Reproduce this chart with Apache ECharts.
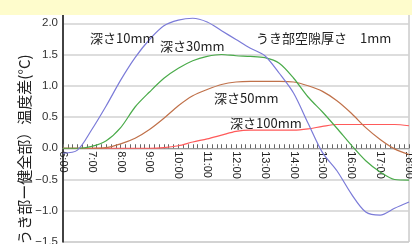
<!DOCTYPE html>
<html>
<head>
<meta charset="utf-8">
<script src="https://cdn.jsdelivr.net/npm/echarts@6/dist/echarts.min.js"></script>
<style>
html, body { margin: 0; padding: 0; background: #fff; }
#chart { width: 412px; height: 244px; }
</style>
</head>
<body>
<div id="chart"></div>
<script>
var hours = [6, 6.5, 7, 7.5, 8, 8.5, 9, 9.5, 10, 10.5, 11, 11.5, 12,
	12.5, 13, 13.5, 14, 14.5, 15, 15.5, 16, 16.5, 17, 17.5, 18];

var depth10 = [-0.08, -0.03, 0.30, 0.68, 1.09, 1.45, 1.74, 1.96, 2.05, 2.08, 2.02, 1.88, 1.74,
	1.60, 1.48, 1.20, 0.88, 0.40, -0.07, -0.36, -0.73, -1.02, -1.07, -0.96, -0.86];
var depth30 = [0, 0, 0.03, 0.12, 0.33, 0.66, 0.90, 1.12, 1.28, 1.40, 1.47, 1.50, 1.48,
	1.47, 1.45, 1.36, 1.12, 0.82, 0.58, 0.32, 0.05, -0.20, -0.38, -0.50, -0.51];
var depth50 = [0, 0, 0, 0.01, 0.07, 0.16, 0.30, 0.48, 0.68, 0.84, 0.94, 1.02, 1.06,
	1.07, 1.07, 1.07, 1.06, 1.00, 0.91, 0.76, 0.56, 0.33, 0.14, -0.01, -0.10];
var depth100 = [0, 0, 0, 0, 0, 0, 0, 0.01, 0.04, 0.10, 0.15, 0.21, 0.27,
	0.29, 0.29, 0.29, 0.29, 0.31, 0.35, 0.38, 0.38, 0.38, 0.38, 0.38, 0.36];

var seriesNames = ['深さ10mm', '深さ30mm', '深さ50mm', '深さ100mm'];
var seriesColors = ['#7b7bd8', '#4aab4a', '#c0714a', '#ff5a5a'];
var yTitle = '（うき部ー健全部）温度差(°C)';
var noteText = 'うき部空隙厚さ　1mm';

var fontJP = '"Noto Sans CJK JP", "Noto Sans", sans-serif';

var yMin = -1.5, yMax = 2.5;
var gridTop = -8, gridBottom = 2, chartH = 244;

var toPairs = function(vals){
	var out = [];
	for (var i = 0; i < hours.length; i++) {
		out.push([hours[i], vals[i]]);
	}
	return out;
};

// x axis sits on the zero line, labels with it
var plotH = chartH - gridTop - gridBottom;
var zeroOffset = -plotH * (0 - yMin) / (yMax - yMin);

var myChart = echarts.init(document.getElementById('chart'), null, {renderer: 'canvas'});

var allVals = [depth10, depth30, depth50, depth100];
var series = [];
for (var i = 0; i < allVals.length; i++) {
	series.push({
		name: seriesNames[i],
		type: 'line',
		data: toPairs(allVals[i]),
		smooth: 0.3,
		symbol: 'none',
		lineStyle: { color: seriesColors[i], width: 1.2 },
		z: 4 - i
	});
}

var option = {
	animation: false,
	grid: {
		left: 63, right: 3, top: gridTop, bottom: gridBottom,
		containLabel: false, outerBoundsMode: 'none',
		show: true, borderColor: '#b0b0b0', borderWidth: 1
	},
	xAxis: {
		type: 'value',
		min: 6,
		max: 18,
		interval: 1,
		position: 'bottom',
		offset: zeroOffset,
		axisLine: { onZero: false, lineStyle: { color: '#999', width: 1 } },
		axisTick: { inside: true, length: 4, lineStyle: { color: '#666' } },
		minorTick: { show: true, splitNumber: 6, length: 4, lineStyle: { color: '#666' } },
		splitLine: { show: false },
		axisLabel: {
			rotate: -90,
			margin: 3,
			color: '#222',
			fontSize: 11,
			fontFamily: 'Liberation Sans, sans-serif',
			formatter: function(v){ return v + ':00'; }
		}
	},
	yAxis: {
		type: 'value',
		min: yMin,
		max: yMax,
		interval: 0.5,
		axisLine: { show: true, lineStyle: { color: '#111', width: 1.5 } },
		axisTick: { show: false },
		splitLine: { lineStyle: { color: '#d2d2d2', width: 1.5 } },
		axisLabel: {
			margin: 5,
			color: '#333',
			fontSize: 11.5,
			fontFamily: 'Liberation Sans, sans-serif',
			formatter: function(v){
				var s = Math.abs(v).toFixed(1);
				return v < 0 ? '\u2212' + s : s;
			}
		}
	},
	graphic: [
		{ type: 'rect', z: 100, shape: { x: 0, y: 0, width: 412, height: 15 }, style: { fill: '#fefccc' } },
		{ type: 'text', z: 50, x: 24, y: 157, rotation: Math.PI / 2,
		  style: { text: yTitle, fill: '#222', font: '15px ' + fontJP, textAlign: 'center', textVerticalAlign: 'middle' } },
		{ type: 'text', z: 50, x: 90, y: 38,
		  style: { text: seriesNames[0], fill: '#222', font: '13px ' + fontJP, textVerticalAlign: 'middle' } },
		{ type: 'text', z: 50, x: 160, y: 46,
		  style: { text: seriesNames[1], fill: '#222', font: '13px ' + fontJP, textVerticalAlign: 'middle' } },
		{ type: 'text', z: 50, x: 214, y: 98,
		  style: { text: seriesNames[2], fill: '#222', font: '13px ' + fontJP, textVerticalAlign: 'middle' } },
		{ type: 'text', z: 50, x: 230, y: 123,
		  style: { text: seriesNames[3], fill: '#222', font: '13px ' + fontJP, textVerticalAlign: 'middle' } },
		{ type: 'text', z: 50, x: 256, y: 38,
		  style: { text: noteText, fill: '#222', font: '13px ' + fontJP, textVerticalAlign: 'middle' } }
	],
	series: series
};
myChart.setOption(option);
</script>
</body>
</html>
